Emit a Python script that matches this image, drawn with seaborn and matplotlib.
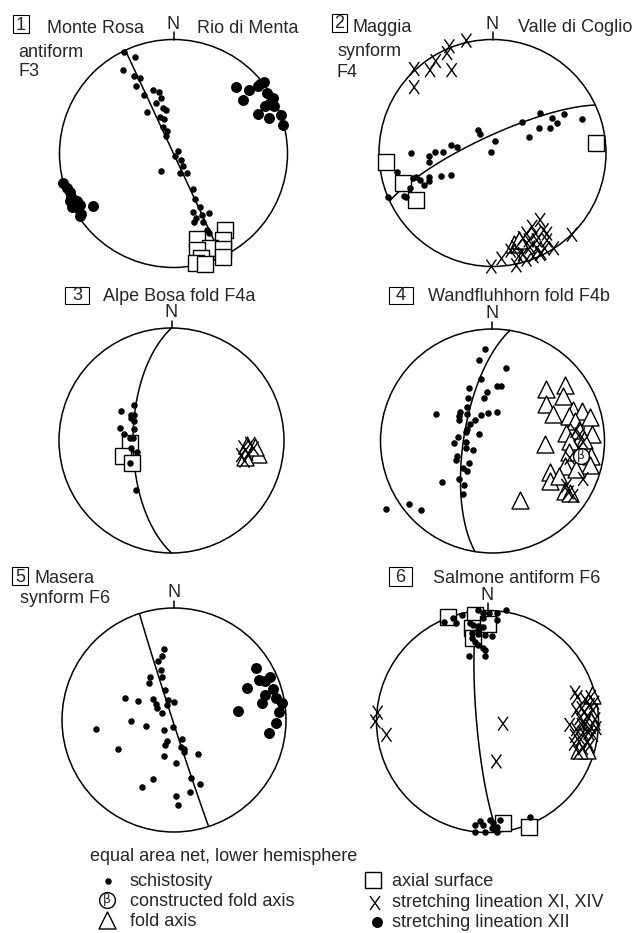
import numpy as np
import matplotlib
matplotlib.use('Agg')
import matplotlib.pyplot as plt
from matplotlib.path import Path
from matplotlib.patches import Circle, Rectangle
import seaborn as sns

sns.set_style('white')
plt.rcParams['font.family'] = ['Liberation Sans', 'DejaVu Sans']

# net coordinates: x = east, y = north, primitive circle radius 1 (equal area, lower hemisphere)

# 1 Monte Rosa antiform F3
p1_schist = [(-0.43, 0.89), (-0.34, 0.85), (-0.44, 0.73), (-0.35, 0.68), (-0.29, 0.66), (-0.33, 0.59),
             (-0.18, 0.56), (-0.13, 0.54), (-0.26, 0.51), (-0.11, 0.49), (-0.15, 0.44), (-0.09, 0.40),
             (-0.07, 0.38), (-0.23, 0.36), (-0.12, 0.32), (-0.08, 0.30), (-0.09, 0.23), (-0.06, 0.20),
             (-0.07, 0.15), (0.01, -0.02), (0.04, 0.02), (0.07, -0.06), (0.08, -0.11), (0.12, -0.17),
             (0.06, -0.17), (-0.11, -0.15), (0.17, -0.31), (0.19, -0.40), (0.23, -0.47), (0.17, -0.51),
             (0.25, -0.54), (0.31, -0.52), (0.20, -0.57), (0.18, -0.60), (0.26, -0.60), (0.29, -0.67),
             (0.31, -0.70)]
p1_lin12 = [(0.55, 0.58), (0.66, 0.56), (0.74, 0.59), (0.79, 0.63), (0.76, 0.61), (0.82, 0.53),
            (0.87, 0.49), (0.61, 0.47), (0.85, 0.44), (0.80, 0.42), (0.88, 0.42), (0.74, 0.35),
            (0.94, 0.34), (0.84, 0.31), (0.96, 0.25),
            (-0.97, -0.26), (-0.93, -0.30), (-0.91, -0.34), (-0.90, -0.38), (-0.87, -0.41),
            (-0.91, -0.42), (-0.85, -0.42), (-0.82, -0.45), (-0.89, -0.47), (-0.84, -0.48),
            (-0.81, -0.53), (-0.82, -0.55), (-0.71, -0.46)]
p1_axial = [(0.21, -0.75), (0.45, -0.67), (0.43, -0.76), (0.32, -0.83), (0.43, -0.84),
            (0.21, -0.85), (0.24, -0.92), (0.43, -0.91), (0.20, -0.96), (0.28, -0.97)]

# 2 Maggia synform F4
p2_schist = [(-0.92, -0.39), (-0.84, -0.17), (-0.72, 0.00), (-0.78, -0.38), (-0.76, -0.39),
             (-0.73, -0.31), (-0.70, -0.22), (-0.67, -0.21), (-0.64, -0.24), (-0.60, -0.28),
             (-0.56, -0.25), (-0.56, -0.21), (-0.56, -0.08), (-0.56, -0.03), (-0.51, 0.01),
             (-0.44, 0.01), (-0.37, 0.07), (-0.31, 0.05), (-0.45, -0.20), (-0.37, -0.19),
             (-0.13, 0.20), (-0.11, 0.17), (0.02, 0.11), (-0.01, 0.01), (0.26, 0.27), (0.32, 0.14),
             (0.42, 0.35), (0.41, 0.22), (0.52, 0.31), (0.51, 0.22), (0.57, 0.26), (0.63, 0.34),
             (0.79, 0.30)]
p2_axial = [(-0.94, -0.08), (-0.79, -0.26), (-0.67, -0.41), (0.91, 0.09)]
p2_lin = [(-0.23, 0.99), (-0.38, 0.94), (-0.40, 0.88), (-0.50, 0.81), (-0.55, 0.73), (-0.69, 0.74),
          (-0.36, 0.73), (-0.69, 0.58),
          (0.42, -0.59), (0.35, -0.65), (0.30, -0.71), (0.45, -0.68), (0.27, -0.75), (0.39, -0.77),
          (0.48, -0.77), (0.54, -0.84), (0.33, -0.83), (0.21, -0.83), (0.27, -0.89), (0.42, -0.89),
          (0.30, -0.94), (0.43, -0.88), (0.70, -0.72), (0.08, -0.93), (-0.01, -1.00), (0.21, -0.99),
          (0.36, -0.91), (0.48, -0.71), (0.16, -0.86), (0.39, -0.84), (0.32, -0.77), (0.38, -0.71),
          (0.46, -0.84), (0.23, -0.91)]
p2_fold = [(0.19, -0.80), (0.23, -0.77)]

# 3 Alpe Bosa fold F4a
p3_schist = [(-0.33, 0.32), (-0.45, 0.26), (-0.36, 0.23), (-0.33, 0.23), (-0.36, 0.20), (-0.33, 0.17),
             (-0.46, 0.11), (-0.33, 0.10), (-0.42, 0.06), (-0.37, 0.02), (-0.34, 0.02), (-0.36, -0.07),
             (-0.31, -0.10), (-0.37, -0.20), (-0.32, -0.44)]
p3_axial = [(-0.37, -0.02), (-0.43, -0.14), (-0.35, -0.20)]
p3_lin = [(0.64, -0.06), (0.68, -0.12), (0.73, -0.07), (0.65, -0.18), (0.70, -0.03), (0.62, -0.13)]
p3_fold = [(0.67, -0.04), (0.73, -0.10), (0.77, -0.12), (0.65, -0.15), (0.74, -0.06)]

# 4 Wandfluhhorn fold F4b
p4_schist = [(-0.07, 0.82), (-0.12, 0.72), (0.12, 0.65), (-0.10, 0.55), (0.04, 0.49), (0.08, 0.49),
             (-0.21, 0.47), (-0.05, 0.44), (-0.22, 0.38), (-0.08, 0.38), (-0.23, 0.30), (-0.50, 0.24),
             (-0.29, 0.26), (-0.30, 0.22), (-0.30, 0.19), (-0.23, 0.24), (-0.10, 0.23), (-0.04, 0.25),
             (0.04, 0.26), (-0.16, 0.19), (-0.20, 0.15), (-0.23, 0.11), (-0.24, 0.08), (-0.12, 0.06),
             (-0.31, 0.04), (-0.24, -0.01), (-0.34, -0.02), (-0.24, -0.06), (-0.17, -0.08),
             (-0.32, -0.13), (-0.33, -0.17), (-0.21, -0.20), (-0.26, -0.24), (-0.23, -0.27),
             (-0.45, -0.37), (-0.30, -0.34), (-0.25, -0.39), (-0.26, -0.47), (-0.95, -0.61),
             (-0.75, -0.56), (-0.64, -0.62)]
p4_fold = [(0.48, 0.46), (0.65, 0.50), (0.63, 0.40), (0.48, 0.33), (0.54, 0.24), (0.72, 0.28),
           (0.80, 0.27), (0.68, 0.22), (0.87, 0.21), (0.74, 0.18), (0.47, -0.03), (0.66, 0.07),
           (0.77, 0.10), (0.89, 0.06), (0.82, 0.01), (0.69, 0.00), (0.88, -0.13), (0.68, -0.10),
           (0.87, -0.21), (0.65, -0.22), (0.51, -0.28), (0.51, -0.36), (0.59, -0.31), (0.75, -0.25),
           (0.65, -0.45), (0.25, -0.53), (0.69, -0.46)]
p4_lin = [(0.74, 0.09), (0.78, 0.06), (0.81, -0.01), (0.77, -0.06), (0.69, -0.15), (0.81, -0.34),
          (0.68, -0.46), (0.72, -0.49), (0.66, -0.40)]
p4_beta = [(0.79, -0.13)]

# 5 Masera synform F6
p5_schist = [(-0.09, 0.63), (-0.11, 0.57), (-0.14, 0.53), (-0.12, 0.45), (-0.11, 0.38), (-0.21, 0.38),
             (-0.22, 0.33), (-0.08, 0.27), (-0.44, 0.20), (-0.32, 0.17), (-0.19, 0.19), (-0.16, 0.14),
             (-0.15, 0.11), (-0.05, 0.18), (0.00, 0.16), (-0.06, 0.13), (-0.11, 0.06), (-0.38, -0.01),
             (-0.25, -0.05), (-0.70, -0.08), (-0.01, -0.06), (-0.09, -0.09), (-0.06, -0.19),
             (0.07, -0.17), (-0.08, -0.22), (0.06, -0.24), (0.09, -0.26), (0.09, -0.29), (0.21, -0.30),
             (-0.50, -0.26), (-0.09, -0.32), (0.02, -0.38), (0.15, -0.52), (0.23, -0.57),
             (-0.19, -0.53), (-0.29, -0.60), (0.14, -0.64), (0.02, -0.68), (0.04, -0.76)]
p5_lin12 = [(0.73, 0.46), (0.76, 0.36), (0.81, 0.35), (0.86, 0.38), (0.65, 0.29), (0.88, 0.28),
            (0.81, 0.22), (0.91, 0.20), (0.79, 0.15), (0.96, 0.15), (0.94, 0.07), (0.57, 0.08),
            (0.91, -0.03), (0.85, -0.12)]

# 6 Salmone antiform F6
p6_schist = [(-0.39, 0.90), (-0.31, 0.93), (-0.28, 0.89), (-0.23, 0.96), (-0.09, 1.00), (-0.04, 0.98),
             (0.01, 0.98), (0.09, 0.98), (0.17, 1.00), (0.09, 0.91), (-0.04, 0.93), (-0.16, 0.89),
             (-0.13, 0.87), (-0.09, 0.86), (-0.07, 0.85), (-0.04, 0.85), (-0.09, 0.82), (-0.14, 0.80),
             (-0.09, 0.79), (-0.02, 0.78), (0.04, 0.77), (-0.14, 0.75), (-0.11, 0.72), (-0.09, 0.69),
             (-0.04, 0.66), (-0.02, 0.64), (-0.17, 0.59), (-0.02, 0.59),
             (-0.11, -0.93), (-0.07, -0.90), (-0.04, -0.93), (-0.11, -1.00), (-0.02, -1.00),
             (0.02, -0.89), (0.05, -0.91), (0.04, -0.96), (0.09, -0.95), (0.11, -0.89), (0.09, -1.00),
             (0.07, -0.98), (0.38, -0.86)]
p6_axial = [(-0.36, 0.94), (-0.11, 0.96), (-0.14, 0.84), (0.00, 0.88), (-0.13, 0.75),
            (0.14, -0.91), (0.37, -0.95)]
p6_lin = [(-0.99, 0.08), (-1.01, 0.00), (-0.91, -0.12), (0.14, -0.02), (0.08, -0.36),
          (0.79, 0.26), (0.81, 0.22), (0.74, -0.03), (0.88, 0.20), (0.92, 0.15), (0.85, 0.12),
          (0.95, 0.10), (0.90, 0.05), (0.83, 0.03), (0.97, 0.02), (0.88, -0.02), (0.93, -0.05),
          (0.80, -0.07), (0.86, -0.10), (0.95, -0.12), (0.84, -0.16), (0.90, -0.18), (0.78, -0.20),
          (0.86, -0.24), (0.92, -0.22), (0.82, -0.28), (0.98, -0.06), (0.80, 0.10), (0.93, 0.22),
          (0.87, 0.08), (0.91, -0.10), (0.85, -0.03), (0.79, -0.13), (0.96, 0.17)]
p6_fold = [(0.94, 0.24), (0.90, -0.26), (0.82, -0.26), (0.93, 0.00)]

# great circles (strike, dip, right-hand rule)
planes = [(335, 90), (245, 78), (180, 62), (189, 69), (162, 89), (175, 82)]

W, H = 634, 933
fig = plt.figure(figsize=(W / 100, H / 100), dpi=100)
bg = fig.add_axes([0, 0, 1, 1])
bg.set_xlim(0, W)
bg.set_ylim(H, 0)
bg.axis('off')

xmark = Path([(-0.36, -0.5), (0.36, 0.5), (-0.36, 0.5), (0.36, -0.5)],
             [Path.MOVETO, Path.LINETO, Path.MOVETO, Path.LINETO])

# marker styles
S_DOT, S_BIG, S_SQ, S_TRI, S_X, S_BETA = 22, 62, 120, 150, 100, 130
LW = 1.0


def project(trend, plunge):
    r = np.sqrt(2) * np.sin(np.radians(90 - plunge) / 2)
    return r * np.sin(np.radians(trend)), r * np.cos(np.radians(trend))


def great_circle(strike, dip):
    rake = np.radians(np.linspace(0, 180, 181))
    s, d = np.radians(strike), np.radians(dip)
    dd = s + np.pi / 2
    e = np.cos(rake) * np.sin(s) + np.sin(rake) * np.sin(dd) * np.cos(d)
    n = np.cos(rake) * np.cos(s) + np.sin(rake) * np.cos(dd) * np.cos(d)
    z = np.sin(rake) * np.sin(d)
    trend = np.degrees(np.arctan2(e, n))
    plunge = np.degrees(np.arcsin(np.clip(z, -1, 1)))
    return project(trend, plunge)


def net(cx, cy, r, plane):
    e = 1.3
    ax = fig.add_axes([(cx - e * r) / W, 1 - (cy + e * r) / H, 2 * e * r / W, 2 * e * r / H])
    ax.set_xlim(-e, e)
    ax.set_ylim(-e, e)
    ax.axis('off')
    ax.add_patch(Circle((0, 0), 1, fill=False, lw=1.1, ec='k', zorder=2))
    ax.plot([0, 0], [1, 1.065], color='k', lw=1.1)
    ax.text(0, 1.095, 'N', ha='center', va='baseline', fontsize=13)
    gx, gy = great_circle(*plane)
    ax.plot(gx, gy, color='k', lw=1.1, zorder=2)
    return ax


def pts(ax, data, kind):
    x = [p[0] for p in data]
    y = [p[1] for p in data]
    if kind == 'schist':
        sns.scatterplot(x=x, y=y, ax=ax, color='k', s=S_DOT, linewidth=0, zorder=5, clip_on=False)
    elif kind == 'lin12':
        sns.scatterplot(x=x, y=y, ax=ax, color='k', s=S_BIG, linewidth=0, zorder=5, clip_on=False)
    elif kind == 'axial':
        sns.scatterplot(x=x, y=y, ax=ax, color='k', marker='s', s=S_SQ, facecolor='white',
                        edgecolor='k', linewidth=LW, zorder=3, clip_on=False)
    elif kind == 'fold':
        sns.scatterplot(x=x, y=y, ax=ax, color='k', marker='^', s=S_TRI, facecolor='white',
                        edgecolor='k', linewidth=LW, zorder=3, clip_on=False)
    elif kind == 'lin':
        sns.scatterplot(x=x, y=y, ax=ax, color='k', marker=xmark, s=S_X, facecolor='none',
                        edgecolor='k', linewidth=LW, zorder=4, clip_on=False)
    elif kind == 'beta':
        sns.scatterplot(x=x, y=y, ax=ax, color='k', marker='o', s=S_BETA, facecolor='white',
                        edgecolor='k', linewidth=LW, zorder=6, clip_on=False)
        for px, py in data:
            ax.text(px, py, 'β', ha='center', va='center', fontsize=9, zorder=7,
                    family=['DejaVu Sans'])


centers = [(173.5, 153.5, 114), (492.5, 153, 113.5), (171.5, 440.5, 112.5),
           (492.5, 441, 112), (174, 720, 112), (487.5, 721.5, 111)]
axes = [net(cx, cy, r, pl) for (cx, cy, r), pl in zip(centers, planes)]

pts(axes[0], p1_axial, 'axial')
pts(axes[0], p1_schist, 'schist')
pts(axes[0], p1_lin12, 'lin12')

pts(axes[1], p2_axial, 'axial')
pts(axes[1], p2_fold, 'fold')
pts(axes[1], p2_lin, 'lin')
pts(axes[1], p2_schist, 'schist')

pts(axes[2], p3_axial, 'axial')
pts(axes[2], p3_fold, 'fold')
pts(axes[2], p3_lin, 'lin')
pts(axes[2], p3_schist, 'schist')

pts(axes[3], p4_fold, 'fold')
pts(axes[3], p4_lin, 'lin')
pts(axes[3], p4_schist, 'schist')
pts(axes[3], p4_beta, 'beta')

pts(axes[4], p5_schist, 'schist')
pts(axes[4], p5_lin12, 'lin12')

pts(axes[5], p6_axial, 'axial')
pts(axes[5], p6_fold, 'fold')
pts(axes[5], p6_lin, 'lin')
pts(axes[5], p6_schist, 'schist')

# panel labels
fs = 13
boxes = [('1', 13, 15, 16, 18), ('2', 332, 14, 15, 18), ('3', 65, 287, 24, 17),
         ('4', 389, 287, 24, 17), ('5', 12, 567, 16, 18), ('6', 389, 567, 23, 19)]
for num, x0, y0, w, h in boxes:
    bg.add_patch(Rectangle((x0, y0), w, h, fill=False, ec='k', lw=0.8))
    bg.text(x0 + w / 2, y0 + h - 3.5, num, ha='center', va='baseline', fontsize=fs)

titles = [(47, 33, 'Monte Rosa'), (18, 57, 'antiform'), (18, 76, 'F3'), (197, 33, 'Rio di Menta'),
          (353, 32, 'Maggia'), (337, 56, 'synform'), (337, 77, 'F4'), (518, 32, 'Valle di Coglio'),
          (103, 301, 'Alpe Bosa fold F4a'), (428, 301, 'Wandfluhhorn fold F4b'),
          (35, 583, 'Masera'), (20, 603, 'synform F6'), (433, 583, 'Salmone antiform F6')]
for x, y, t in titles:
    bg.text(x, y, t, ha='left', va='baseline', fontsize=fs)

# legend
bg.text(90, 861, 'equal area net, lower hemisphere', ha='left', va='baseline', fontsize=fs)
legend_left = [(881, 'schistosity'), (901, 'constructed fold axis'), (921, 'fold axis')]
legend_right = [(881, 'axial surface'), (902, 'stretching lineation XI, XIV'),
                (922, 'stretching lineation XII')]
for y, t in legend_left:
    bg.text(130, y + 5, t, ha='left', va='baseline', fontsize=fs)
for y, t in legend_right:
    bg.text(392, y + 5, t, ha='left', va='baseline', fontsize=fs)

sns.scatterplot(x=[108], y=[881], ax=bg, color='k', s=S_DOT, linewidth=0, clip_on=False)
sns.scatterplot(x=[107], y=[900], ax=bg, color='k', marker='o', s=S_BETA, facecolor='white',
                edgecolor='k', linewidth=LW, clip_on=False)
bg.text(107, 900, 'β', ha='center', va='center', fontsize=9, family=['DejaVu Sans'])
sns.scatterplot(x=[107], y=[920], ax=bg, color='k', marker='^', s=S_TRI, facecolor='white',
                edgecolor='k', linewidth=LW, clip_on=False)
sns.scatterplot(x=[373], y=[880], ax=bg, color='k', marker='s', s=S_SQ, facecolor='white',
                edgecolor='k', linewidth=LW, clip_on=False)
sns.scatterplot(x=[375], y=[903], ax=bg, color='k', marker=xmark, s=S_X, facecolor='none',
                edgecolor='k', linewidth=LW, clip_on=False)
sns.scatterplot(x=[377], y=[922], ax=bg, color='k', s=S_BIG, linewidth=0, clip_on=False)
bg.set_xlim(0, W)
bg.set_ylim(H, 0)

fig.savefig('out.png', dpi=100)
